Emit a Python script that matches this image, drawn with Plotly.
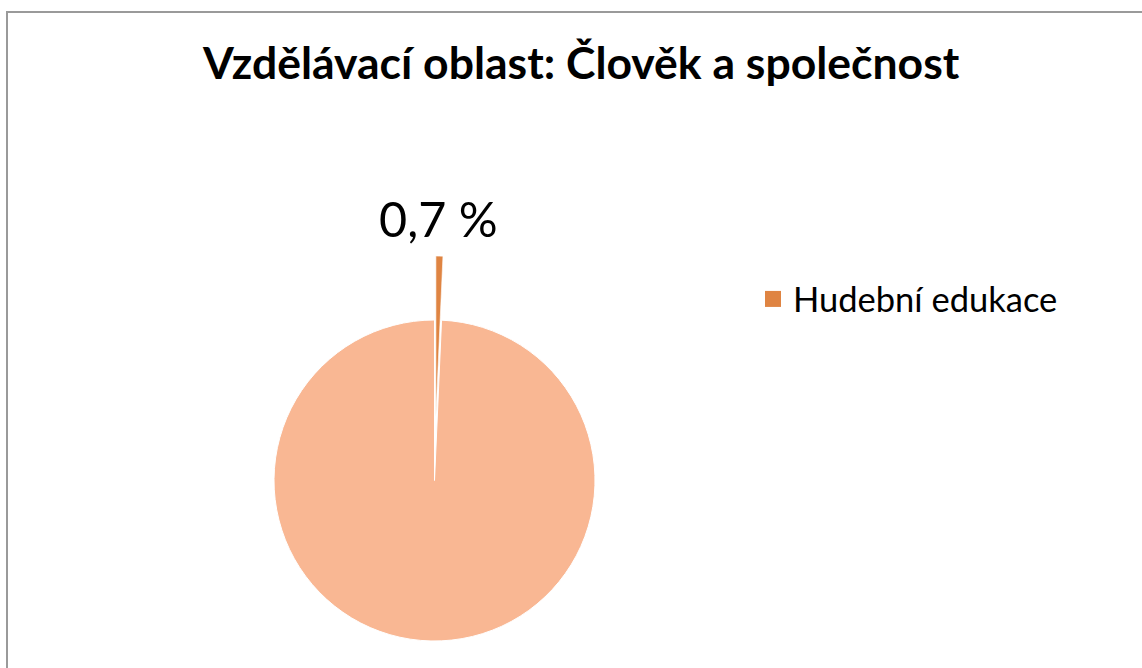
import plotly.graph_objects as go

W, H = 1142, 668

# ---- data ----
labels = ["Hudební edukace", "Ostatní"]
values = [0.7, 99.3]
title_text = "Vzdělávací oblast: Člověk a společnost"
legend_label = labels[0]

c_small = "#DF8442"
c_big = "#F9B793"

def px_x(x):  # window pixel -> paper
    return x / W

def px_y(y):
    return 1 - y / H

# geometry (window pixels)
cx, cy, r = 434.5, 480.5, 160.5
cx2, cy2 = 435.9, 416.5

fig = go.Figure()

# main pie (the small slice left as a white gap)
fig.add_trace(go.Pie(
    labels=labels, values=values, sort=False, direction="clockwise", rotation=0,
    marker=dict(colors=["#FFFFFF", c_big], line=dict(color="#FFFFFF", width=1)),
    textinfo="none", hoverinfo="label+percent", showlegend=False,
    domain=dict(x=[px_x(cx - r), px_x(cx + r)], y=[px_y(cy + r), px_y(cy - r)]),
))

# exploded small slice
fig.add_trace(go.Pie(
    labels=labels, values=values, sort=False, direction="clockwise", rotation=0,
    marker=dict(colors=[c_small, "rgba(0,0,0,0)"],
                line=dict(color=["#FFFFFF", "rgba(0,0,0,0)"], width=[0.6, 0])),
    textinfo="none", hoverinfo="label+percent", showlegend=False,
    domain=dict(x=[px_x(cx2 - r), px_x(cx2 + r)], y=[px_y(cy2 + r), px_y(cy2 - r)]),
))

# legend entry (square marker)
fig.add_trace(go.Scatter(
    x=[None], y=[None], mode="markers", name=legend_label,
    marker=dict(symbol="square", size=16, color=c_small, line=dict(width=0)),
    showlegend=True, hoverinfo="skip",
))

pct_text = f"{values[0]:.1f}".replace(".", ",") + " %"

fig.update_layout(
    width=W, height=H, autosize=False,
    margin=dict(l=0, r=0, t=0, b=0),
    paper_bgcolor="white", plot_bgcolor="white",
    font=dict(family="Lato", color="#000000"),
    showlegend=True,
    xaxis=dict(visible=False), yaxis=dict(visible=False),
    legend=dict(
        x=px_x(753), y=px_y(270), xanchor="left", yanchor="top",
        font=dict(family="Lato", size=34.5, color="#000000"),
        bgcolor="rgba(0,0,0,0)", borderwidth=0, traceorder="normal",
        itemclick=False, itemdoubleclick=False,
    ),
    annotations=[
        dict(text="<b>" + title_text + "</b>", x=px_x(580.5), y=px_y(61), xref="paper", yref="paper",
             xanchor="center", yanchor="middle", showarrow=False,
             font=dict(family="Lato", size=44.5, color="#000000")),
        dict(text=pct_text, x=px_x(438), y=px_y(218), xref="paper", yref="paper",
             xanchor="center", yanchor="middle", showarrow=False,
             font=dict(family="Lato", size=48.5, color="#000000")),
    ],
    shapes=[
        dict(type="rect", xref="paper", yref="paper",
             x0=px_x(7), y0=px_y(12), x1=px_x(1200), y1=px_y(760),
             line=dict(color="#9A9A9A", width=2), fillcolor="rgba(0,0,0,0)", layer="above"),
    ],
)

fig.write_html(
    "out.html",
    config={"displayModeBar": False},
    post_script="document.body.style.margin='0';document.body.style.overflow='hidden';",
)
